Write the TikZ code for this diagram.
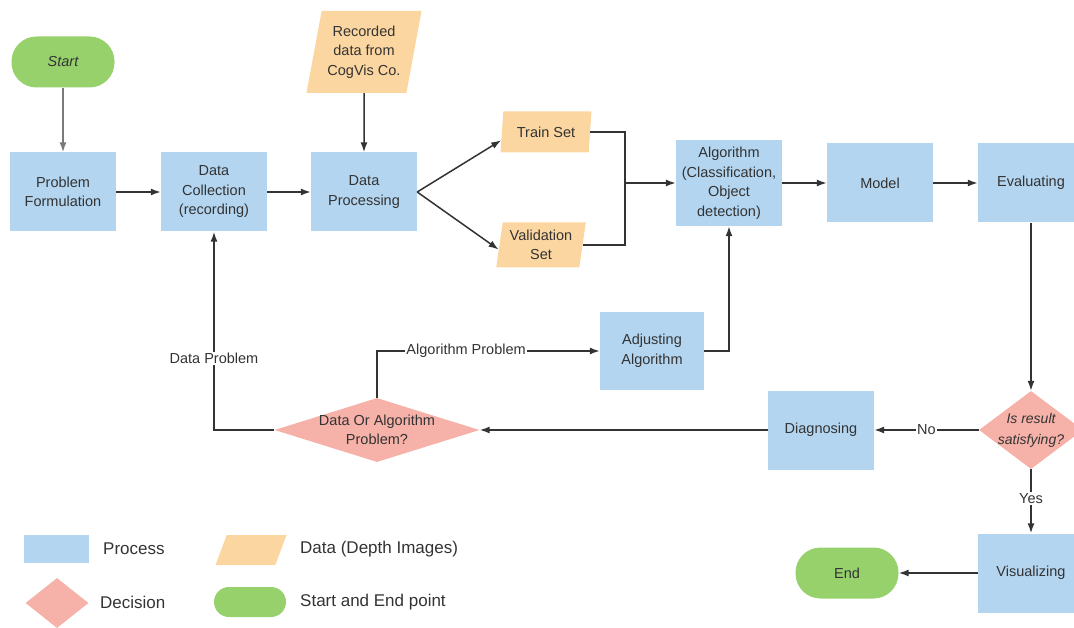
\documentclass[tikz,border=0pt]{standalone}
\usepackage{fontspec}
\setmainfont{Liberation Sans}
\usetikzlibrary{shapes.geometric,arrows.meta,calc}
\definecolor{procblue}{HTML}{B3D5F0}
\definecolor{dataorange}{HTML}{FCD6A0}
\definecolor{decpink}{HTML}{F6B1A8}
\definecolor{termgreen}{HTML}{96D16C}
\definecolor{ink}{HTML}{333333}
\definecolor{softgray}{HTML}{7A7A7A}
\begin{document}
\begin{tikzpicture}[x=1pt,y=-1pt,
  every node/.style={text=ink},
  base/.style={font=\fontsize{14.5}{19.5}\selectfont, align=center, inner sep=0pt},
  proc/.style={base, fill=procblue, minimum width=106pt, minimum height=79pt},
  term/.style={base, fill=termgreen, rounded corners=25pt, minimum width=103pt, minimum height=51pt},
  datashape/.style={base, trapezium, trapezium stretches=true, fill=dataorange},
  dec/.style={diamond, fill=decpink, inner sep=0pt},
  flow/.style={draw=ink, line width=1.5pt, -{Latex[length=10pt,width=7pt]}},
  link/.style={draw=ink, line width=1.5pt},
  lbl/.style={fill=white, font=\fontsize{14.5}{17}\selectfont, inner sep=1.5pt},
  legend/.style={anchor=west, font=\fontsize{17}{20}\selectfont, inner sep=0pt}
]
\useasboundingbox (0,0) rectangle (1074,628);

% main flow
\node[term] (start) at (63,62) {\itshape Start};
\node[proc] (pf) at (63,192) {Problem\\Formulation};
\node[proc] (dc) at (214,192) {Data\\Collection\\(recording)};
\node[proc] (dp) at (364,192) {Data\\Processing};
\node[datashape, trapezium left angle=76, trapezium right angle=104,
      minimum width=116pt, minimum height=82pt] (rec) at (364,52) {Recorded\\data from\\CogVis Co.};
\node[datashape, trapezium left angle=80, trapezium right angle=100,
      minimum width=91pt, minimum height=41pt] (train) at (546,132) {Train Set};
\node[datashape, trapezium left angle=80, trapezium right angle=100,
      minimum width=90pt, minimum height=45pt] (val) at (541,245) {Validation\\Set};
\node[proc, minimum height=86pt] (alg) at (729,183) {Algorithm\\(Classification,\\Object\\detection)};
\node[proc] (model) at (880,183) {Model};
\node[proc] (eval) at (1031,183) {Evaluating};
\node[proc, minimum width=104pt, minimum height=78pt] (adj) at (652,351) {Adjusting\\Algorithm};
\node[proc] (diag) at (821,430) {Diagnosing};
\node[proc] (vis) at (1031,573) {Visualizing};
\node[term] (end) at (847,573) {End};

% decisions
\node[dec, minimum width=205pt, minimum height=64pt] (doa) at (377,430) {};
\node[base] (doaT) at (doa) {Data Or Algorithm\\Problem?};
\node[dec, minimum width=104pt, minimum height=78pt] (sat) at (1031,430) {};
\node[base, font={\fontsize{14}{21}\selectfont\itshape}] (satT) at (sat) {Is result\\satisfying?};

\coordinate (join) at (625,183);

% connectors
\draw[flow, draw=softgray] (start) -- (pf);
\draw[flow] (pf) -- (dc);
\draw[flow] (dc) -- (dp);
\draw[flow] (rec) -- (dp);
\draw[flow] (dp.east) -- ($(train.bottom left corner)!0.3!(train.top left corner)$);
\draw[flow] (dp.east) -- ($(val.bottom left corner)!0.4!(val.top left corner)$);
\draw[link] (train.east) -| (join);
\draw[link] (val.east) -| (join);
\draw[flow] (join) -- (alg.west);
\draw[flow] (alg) -- (model);
\draw[flow] (model) -- (eval);
\draw[flow] (eval.south) -- (sat.north);
\draw[flow] (sat.west) -- node[lbl] {No} (diag.east);
\draw[flow] (diag.west) -- (doa.east);
\draw[flow] (doa.west) -| node[lbl, pos=0.68] {Data Problem} (dc.south);
\draw[flow] (doa.north) |- node[lbl, pos=0.70] {Algorithm Problem} (adj.west);
\draw[flow] (adj.east) -| (alg.south);
\draw[flow] (sat.south) -- node[lbl, pos=0.46] {Yes} (vis.north);
\draw[flow] (vis.west) -- (end.east);

% legend
\node[proc, minimum width=65pt, minimum height=28pt] (lgP) at (56.5,549) {};
\node[legend] (lgPt) at (103,549) {Process};
\node[dec, minimum width=63pt, minimum height=50pt] (lgD) at (57,603) {};
\node[legend] (lgDt) at (100,602) {Decision};
\node[datashape, inner sep=1pt, trapezium left angle=77, trapezium right angle=103,
      minimum width=71pt, minimum height=30pt] (lgA) at (251,550) {};
\node[legend] (lgAt) at (300,549) {Data (Depth Images)};
\node[term, minimum width=72pt, minimum height=30pt, rounded corners=15pt] (lgT) at (250,602) {};
\node[legend] (lgTt) at (300,602) {Start and End point};
\end{tikzpicture}
\end{document}
